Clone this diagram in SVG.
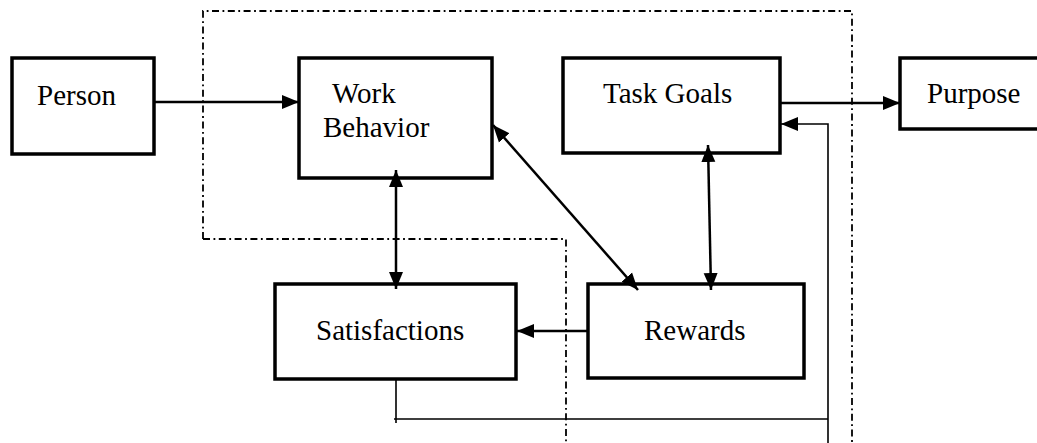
<svg xmlns="http://www.w3.org/2000/svg" width="1037" height="443" viewBox="0 0 1037 443">
<style>
.box{fill:#fff;stroke:#000;stroke-width:3.5}
.lbl{font-family:"Liberation Serif","Times New Roman",serif;font-size:29px;fill:#000}
.arr{stroke:#000;stroke-width:2.5;fill:none}
.thin{stroke:#000;stroke-width:1.6;fill:none}
.bound{stroke:#000;stroke-width:1.8;fill:none;stroke-dasharray:7 3.5 1.8 3.5}
</style>
<defs>
<marker id="ah" markerUnits="userSpaceOnUse" markerWidth="18" markerHeight="16" refX="17" refY="8" orient="auto-start-reverse">
<path d="M0,1 L17,8 L0,15 Z" fill="#000"/>
</marker>
</defs>
<g id="boundary">
<path class="bound" d="M203,239 L203,11 L852,11 L852,443"/>
<path class="bound" d="M203,239 L566,239 L566,443"/>
</g>
<g id="person"><rect class="box" x="12" y="58" width="142" height="96"/><text class="lbl" x="37" y="105">Person</text></g>
<g id="work-behavior"><rect class="box" x="299" y="58" width="193" height="120"/><text class="lbl" x="332" y="103">Work</text><text class="lbl" x="323" y="137">Behavior</text></g>
<g id="task-goals"><rect class="box" x="563" y="58" width="217" height="95"/><text class="lbl" x="603" y="103">Task Goals</text></g>
<g id="purpose"><rect class="box" x="900" y="58" width="145" height="71"/><text class="lbl" x="927" y="103">Purpose</text></g>
<g id="satisfactions"><rect class="box" x="275" y="284" width="241" height="95"/><text class="lbl" x="316" y="340">Satisfactions</text></g>
<g id="rewards"><rect class="box" x="588" y="284" width="216" height="94"/><text class="lbl" x="644" y="340">Rewards</text></g>
<g id="connectors">
<line class="arr" x1="154" y1="102" x2="299" y2="102" marker-end="url(#ah)"/>
<line class="arr" x1="780" y1="103" x2="900" y2="103" marker-end="url(#ah)"/>
<line class="arr" x1="396" y1="170" x2="396" y2="289" marker-start="url(#ah)" marker-end="url(#ah)"/>
<line class="arr" x1="708" y1="145" x2="711" y2="290" marker-start="url(#ah)" marker-end="url(#ah)"/>
<line class="arr" x1="493" y1="125" x2="638" y2="290" marker-start="url(#ah)" marker-end="url(#ah)"/>
<line class="arr" x1="588" y1="331" x2="517" y2="331" marker-end="url(#ah)"/>
<path class="thin" d="M396,379 L396,423 M394,419 L828,419 M828,443 L828,124 L781,124" marker-end="url(#ah)"/>
</g>
</svg>
